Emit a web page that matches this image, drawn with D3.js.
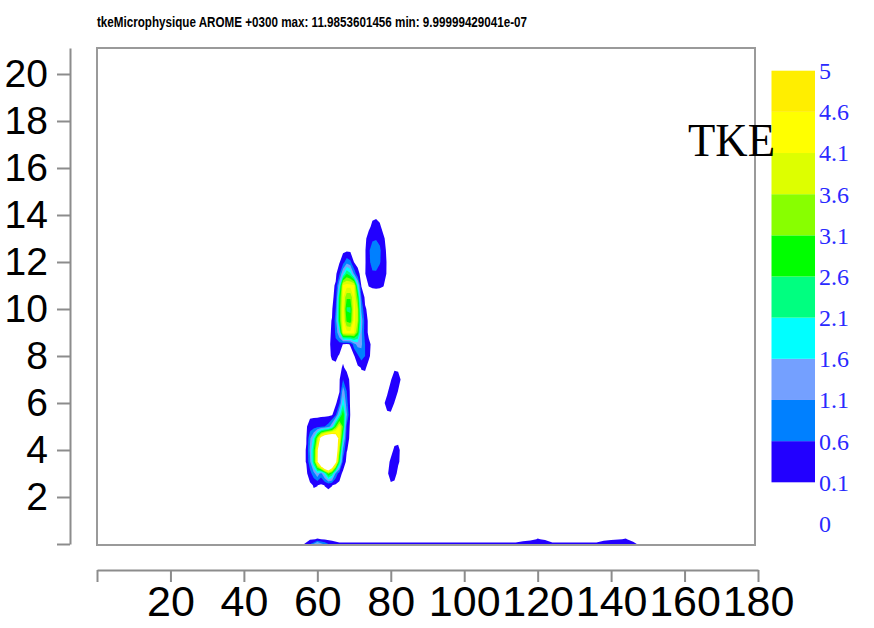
<!DOCTYPE html>
<html>
<head>
<meta charset="utf-8">
<script src="https://cdn.jsdelivr.net/npm/d3@7"></script>
<style>
  html, body { margin: 0; padding: 0; background: #ffffff; }
  svg { display: block; }
</style>
</head>
<body>
<script>
// TKE cross-section (AROME +0300): filled contours of a gridded field.

const titleText = "tkeMicrophysique AROME +0300 max: 11.9853601456 min: 9.99999429041e-07";
const legendTitle = "TKE";

const xTicks = [0, 20, 40, 60, 80, 100, 120, 140, 160, 180];
const xTickLabels = ["", "20", "40", "60", "80", "100", "120", "140", "160", "180"];
const yTicks = [0, 2, 4, 6, 8, 10, 12, 14, 16, 18, 20];
const yTickLabels = ["", "2", "4", "6", "8", "10", "12", "14", "16", "18", "20"];

// Contour levels and fill colours (band i spans levels[i]..levels[i+1])
const levels = [0.1, 0.6, 1.1, 1.6, 2.1, 2.6, 3.1, 3.6, 4.1, 4.6, 5];
const levelLabels = ["0.1", "0.6", "1.1", "1.6", "2.1", "2.6", "3.1", "3.6", "4.1", "4.6", "5"];
const floorLabel = "0";
const bandColors = ["#2200ff", "#0080ff", "#74a0ff", "#00ffff", "#00ff80",
                    "#00ff00", "#88ff00", "#ddff00", "#ffff00", "#ffee00"];
const aboveColor = "#ffffff";

// Column field: x = 56..83 (step 1), rows y = 14 down to 2 (step 0.5)
const colX0 = 56, colDX = 1, rowY0 = 14, rowDY = 0.5;
const tke = [
  [0,0,0,0,0,0,0,0,0,0,        0,0,0,0,0,0,0,0,0,0,              0,0,0,0,0,0,0,0],          // 14
  [0,0,0,0,0,0,0,0,0,0,        0,0,0,0,0,0,0,0,0,0.2,            0.3,0.15,0,0,0,0,0,0],     // 13.5
  [0,0,0,0,0,0,0,0,0,0,        0,0,0,0,0,0,0,0,0.3,0.5,          0.55,0.45,0.15,0,0,0,0,0], // 13
  [0,0,0,0,0,0,0,0,0,0,        0,0,0,0,0,0,0,0.05,0.5,0.9,       0.95,0.7,0.3,0,0,0,0,0],   // 12.5
  [0,0,0,0,0,0,0,0,0,0,        0.05,0.4,0.9,0.7,0.08,0,0,0.05,0.45,0.85, 0.9,0.65,0.35,0.05,0,0,0,0], // 12
  [0,0,0,0,0,0,0,0,0,0,        0.5,1.6,2.6,2.2,1.0,0.2,0,0.08,0.35,0.5,  0.5,0.4,0.3,0.05,0,0,0,0],  // 11.5
  [0,0,0,0,0,0,0,0,0,0.15,     1.5,4.2,4.3,4.3,4.2,1.8,0.05,0,0.11,0.13, 0.14,0.13,0.11,0,0,0,0,0], // 11
  [0,0,0,0,0,0,0,0,0,0.25,     2.6,4.2,3.2,3.2,4.2,3.0,0.6,0,0,0,  0,0,0,0,0,0,0,0],          // 10.5
  [0,0,0,0,0,0,0,0,0.05,0.6,   2.8,4.3,2.5,2.5,4.3,3.6,1.0,0.15,0,0, 0,0,0,0,0,0,0,0],        // 10
  [0,0,0,0,0,0,0,0,0.12,0.8,   2.8,4.3,3.0,2.8,4.3,3.6,1.4,0.35,0,0, 0,0,0,0,0,0,0,0],        // 9.5
  [0,0,0,0,0,0,0,0,0.15,0.7,   1.6,4.15,4.3,4.3,4.15,3.0,1.2,0.35,0,0, 0,0,0,0,0,0,0,0],      // 9
  [0,0,0,0,0,0,0,0,0.2,0.5,    0.4,0.08,0.05,0.12,0.9,1.3,1.2,0.6,0.2,0, 0,0,0,0,0,0,0,0],    // 8.5
  [0,0,0,0,0,0,0,0,0.15,0.2,   0.05,0,0,0,0.05,0.5,0.9,0.6,0.15,0, 0,0,0,0,0,0,0,0],          // 8
  [0,0,0,0,0,0,0,0,0,0,        0,0.15,0,0,0,0,0.12,0.14,0,0,     0,0,0,0,0,0,0,0],            // 7.5
  [0,0,0,0,0,0,0,0,0,0,        0.05,0.6,0.3,0,0,0,0,0,0,0,       0,0,0,0,0.05,0.4,0.3,0],     // 7
  [0,0,0,0,0,0,0,0,0,0,        0.06,1.4,0.6,0,0,0,0,0,0,0,       0,0,0,0,0.35,0.45,0.08,0],   // 6.5
  [0,0,0,0,0,0,0,0,0,0,        0.5,2.0,0.8,0,0,0,0,0,0,0,        0,0,0,0.3,0.4,0.08,0,0],     // 6
  [0,0,0,0,0,0,0,0,0.05,0.5,   1.8,3.0,1.2,0.05,0,0,0,0,0,0,     0,0,0,0,0,0,0,0],            // 5.5
  [0,0.05,0.3,0.35,0.4,0.5,0.6,0.8,1.5,3.0, 4.2,3.0,0.5,0,0,0,0,0,0,0, 0,0,0,0,0,0,0,0],       // 5
  [0,0.08,1.0,1.8,3.5,5.5,6.5,7.0,7.0,6.0,  4.5,2.0,0.3,0,0,0,0,0,0,0, 0,0,0,0,0,0,0,0],       // 4.5
  [0,0.12,1.2,2.5,4.6,8.0,11.985,11.0,9.0,6.5, 3.5,1.0,0.12,0,0,0,0,0,0,0, 0,0,0,0,0,0.15,0.18,0], // 4
  [0,0.12,1.0,2.5,4.8,7.5,10.0,10.0,8.0,5.5, 2.5,0.4,0,0,0,0,0,0,0,0, 0,0,0,0,0.15,0.4,0.15,0],  // 3.5
  [0,0,0.4,0.9,1.5,0.9,1.8,3.2,2.5,1.0,     0.3,0,0,0,0,0,0,0,0,0, 0,0,0,0,0.35,0.25,0,0],      // 3
  [0,0,0,0.13,0.11,0.02,0.11,0.15,0.11,0.02, 0,0,0,0,0,0,0,0,0,0, 0,0,0,0,0,0,0,0],           // 2.5
  [0,0,0,0,0,0,0,0,0,0,        0,0,0,0,0,0,0,0,0,0,              0,0,0,0,0,0,0,0]             // 2
];

// Near-surface field: x = 56..148 (step 2), rows y = 0.4, 0.2, 0
const sfcX0 = 56, sfcDX = 2, sfcY0 = 0.4, sfcDY = 0.2;
const tkeSurface = [
  [0,0,0,0,0, 0,0,0,0,0,0,0,0,0,0,0,0,0,0,0,0,0,0,0,0,0,0,0,0,0, 0,0,0,0, 0,0,0,0,0,0,0, 0,0,0,0,0,0],
  [0,0.05,0.12,0.08,0, 0,0,0,0,0,0,0,0,0,0,0,0,0,0,0,0,0,0,0,0,0,0,0,0,0, 0,0,0.12,0.06, 0,0,0,0,0,0,0, 0,0.05,0.08,0.12,0,0],
  [0,0.5,1.8,0.9,0.3, 0.15,0.15,0.15,0.15,0.15,0.15,0.15,0.15,0.15,0.15,0.15,0.15,0.15,0.15,0.15,0.15,0.15,0.15,0.15,0.15,0.15,0.15,0.15,0.15,0.15,
   0.25,0.4,0.5,0.35, 0.15,0.15,0.15,0.15,0.15,0.15,0.15, 0.3,0.45,0.45,0.45,0.2,0]
];

const W = 874, H = 628;
const svg = d3.select("body").append("svg").attr("width", W).attr("height", H)
  .style("font-family", "'Liberation Sans', Arial, sans-serif");

const x = d3.scaleLinear().domain([0, 180]).range([97, 758]);
const y = d3.scaleLinear().domain([0, 21.106]).range([544, 48]);

const plot = { left: 97, right: 755, top: 48, bottom: 545 };

const defs = svg.append("defs");
defs.append("clipPath").attr("id", "plotClip")
  .append("rect").attr("x", plot.left).attr("y", plot.top)
  .attr("width", plot.right - plot.left).attr("height", y(0) - plot.top);
defs.append("filter").attr("id", "soft").attr("x", "-5%").attr("y", "-5%").attr("width", "110%").attr("height", "110%")
  .append("feGaussianBlur").attr("stdDeviation", 0.55);

// Frame
svg.append("rect")
  .attr("x", plot.left).attr("y", plot.top)
  .attr("width", plot.right - plot.left).attr("height", plot.bottom - plot.top)
  .attr("fill", "none").attr("stroke", "#9a9a9a").attr("stroke-width", 2);

// Filled contours
const fieldLayer = svg.append("g").attr("clip-path", "url(#plotClip)")
  .append("g").attr("filter", "url(#soft)");

function drawField(grid, gx0, gdx, gy0, gdy) {
  const m = grid.length, n = grid[0].length;
  const flat = grid.flat();
  const path = d3.geoPath(d3.geoTransform({
    point(px, py) {
      this.stream.point(x(gx0 + (px - 0.5) * gdx), y(gy0 - (py - 0.5) * gdy));
    }
  }));
  const bands = d3.contours().size([n, m]).thresholds(levels)(flat);
  fieldLayer.append("g").selectAll("path").data(bands).join("path")
    .attr("d", path)
    .attr("fill", d => {
      const i = levels.indexOf(d.value);
      return i < bandColors.length ? bandColors[i] : aboveColor;
    });
}
drawField(tke, colX0, colDX, rowY0, rowDY);
drawField(tkeSurface, sfcX0, sfcDX, sfcY0, sfcDY);

// Axes
const axisColor = "#8c8c8c";
const yAxis = svg.append("g").attr("transform", "translate(70,0)")
  .call(d3.axisLeft(y).tickValues(yTicks).tickSize(13).tickSizeOuter(0).tickPadding(9)
    .tickFormat((d, i) => yTickLabels[i]));
const xAxis = svg.append("g").attr("transform", "translate(0,570)")
  .call(d3.axisBottom(x).tickValues(xTicks).tickSize(12).tickSizeOuter(0).tickPadding(3)
    .tickFormat((d, i) => xTickLabels[i]));
[yAxis, xAxis].forEach(a => {
  a.select(".domain").attr("stroke", axisColor).attr("stroke-width", 2);
  a.selectAll(".tick line").attr("stroke", axisColor).attr("stroke-width", 2);
  a.selectAll(".tick text").attr("fill", "#000")
    .style("font-family", "'Liberation Sans', Arial, sans-serif");
});
yAxis.selectAll(".tick text").style("font-size", "39px");
xAxis.selectAll(".tick text").style("font-size", "43px");

// Title
svg.append("text").attr("x", 97).attr("y", 27)
  .attr("font-size", 14).attr("font-weight", "bold").attr("fill", "#000")
  .attr("textLength", 430).attr("lengthAdjust", "spacingAndGlyphs")
  .text(titleText);

// Colour bar
const cb = d3.scaleLinear().domain([0, levels.length - 1]).range([482.3, 70.7]);
const cbX = 771.5, cbW = 43.5;
svg.append("g").selectAll("rect").data(bandColors).join("rect")
  .attr("x", cbX).attr("width", cbW)
  .attr("y", (d, i) => cb(i + 1)).attr("height", (d, i) => cb(i) - cb(i + 1))
  .attr("fill", d => d);

const cbLabels = svg.append("g")
  .style("font-family", "'Liberation Serif', 'Times New Roman', serif")
  .style("font-size", "24px").attr("fill", "#2a2aff");
cbLabels.selectAll("text").data(levelLabels).join("text")
  .attr("x", 819).attr("y", (d, i) => cb(i)).attr("dy", "0.35em").text(d => d);
cbLabels.append("text").attr("x", 819).attr("y", cb(-1)).attr("dy", "0.35em").text(floorLabel);

// Legend title
svg.append("text").attr("x", 688).attr("y", 156)
  .style("font-family", "'Liberation Serif', 'Times New Roman', serif")
  .style("font-size", "46px").attr("fill", "#000")
  .attr("textLength", 87).attr("lengthAdjust", "spacingAndGlyphs")
  .text(legendTitle);
</script>
</body>
</html>
